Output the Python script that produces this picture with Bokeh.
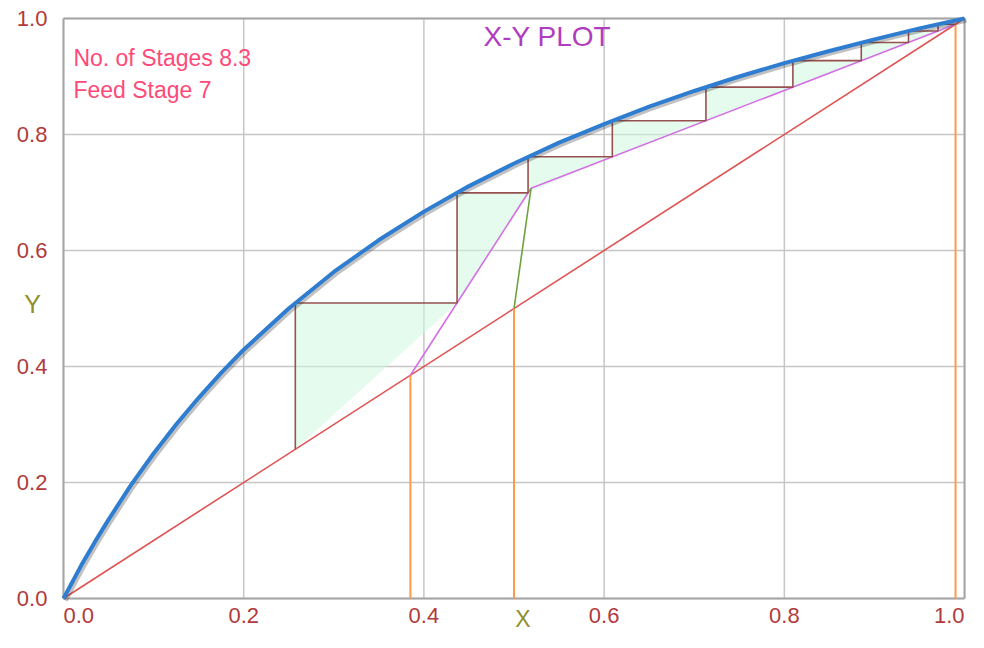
from bokeh.plotting import figure
from bokeh.models import Range1d, Label
from bokeh.embed import file_html
from bokeh.resources import INLINE

# ---------------- data ----------------
eq_x = [0.0, 0.01, 0.02, 0.035, 0.05, 0.075, 0.1, 0.125, 0.15, 0.175, 0.2, 0.25,
        0.3, 0.35, 0.4, 0.45, 0.5, 0.55, 0.6, 0.65, 0.7, 0.75, 0.8, 0.85,
        0.9, 0.95, 1.0]
eq_y = [0.0, 0.029, 0.058, 0.098, 0.136, 0.196, 0.25, 0.3, 0.346, 0.389, 0.429, 0.5,
        0.563, 0.618, 0.667, 0.711, 0.75, 0.786, 0.818, 0.848, 0.875, 0.9, 0.923, 0.944,
        0.964, 0.983, 1.0]

diag_x = [0.0, 1.0]
diag_y = [0.0, 1.0]

comp_x = [0.385, 0.5, 0.99]          # bottoms, feed, distillate

rect_x = [0.5189, 0.99]
rect_y = [0.7073, 0.99]
strip_x = [0.385, 0.5189]
strip_y = [0.385, 0.7073]
feed_x = [0.5, 0.5189]
feed_y = [0.5, 0.7073]

step_x = [0.99, 0.9706, 0.9706, 0.9378, 0.9378, 0.8854, 0.8854, 0.8095, 0.8095,
          0.7130, 0.7130, 0.6091, 0.6091, 0.5156, 0.5156, 0.4368, 0.4368, 0.2573, 0.2573]
step_y = [0.99, 0.99, 0.9784, 0.9784, 0.9587, 0.9587, 0.9273, 0.9273, 0.8817,
          0.8817, 0.8238, 0.8238, 0.7615, 0.7615, 0.6994, 0.6994, 0.5096, 0.5096, 0.2573]

tick_vals = [0.0, 0.2, 0.4, 0.6, 0.8, 1.0]
tick_labels = ["0.0", "0.2", "0.4", "0.6", "0.8", "1.0"]

title_text = "X-Y PLOT"
info_lines = ["No. of Stages 8.3", "Feed Stage 7"]
x_title = "X"
y_title = "Y"

# ---------------- styles ----------------
FONT = "Liberation Sans"
TICK_COLOR = "#b23a3a"
AXIS_TITLE_COLOR = "#8f8f2e"

p = figure(width=968, height=632, output_backend="svg", toolbar_location=None,
           x_range=Range1d(-0.0699, 1.0044), y_range=Range1d(-0.0586, 1.031),
           min_border=0)
p.background_fill_color = "white"
p.border_fill_color = "white"
p.outline_line_color = None
p.xaxis.visible = False
p.yaxis.visible = False
p.xgrid.visible = False
p.ygrid.visible = False

# grid lines (inside the unit square)
p.multi_line([[v, v] for v in tick_vals], [[0, 1] for _ in tick_vals],
             line_color="#c6c6c6", line_width=1.5)
p.multi_line([[0, 1] for _ in tick_vals], [[v, v] for v in tick_vals],
             line_color="#c6c6c6", line_width=1.5)

# stage fills (triangles from consecutive step corners)
tri_xs, tri_ys = [], []
for i in range(0, len(step_x) - 2, 2):
    tri_xs.append([step_x[i], step_x[i + 1], step_x[i + 2]])
    tri_ys.append([step_y[i], step_y[i + 1], step_y[i + 2]])
p.patches(tri_xs, tri_ys, fill_color="#cff7df", fill_alpha=0.55, line_color=None)

# chart border
lo, hi = tick_vals[0], tick_vals[-1]
p.multi_line([[lo, hi], [lo, hi], [lo, lo], [hi, hi]],
             [[lo, lo], [hi, hi], [lo, hi], [lo, hi]],
             line_color="#a6a6a6", line_width=2)

# diagonal
p.line(diag_x, diag_y, line_color="#e05252", line_width=1.6)

# composition verticals
for c in comp_x:
    p.line([c, c], [0, c], line_color="#ff9a48", line_width=2)

# operating lines and feed line
p.line(rect_x, rect_y, line_color="#d46ee4", line_width=1.6)
p.line(strip_x, strip_y, line_color="#d46ee4", line_width=1.6)
p.line(feed_x, feed_y, line_color="#6ea23e", line_width=1.6)

# stage steps
p.line(step_x, step_y, line_color="#965050", line_width=1.6)

# equilibrium curve with soft shadow
p.line([x + 0.0022 for x in eq_x], [y - 0.0035 for y in eq_y],
       line_color="#333333", line_alpha=0.3, line_width=4.5)
p.line(eq_x, eq_y, line_color="#2e7dd0", line_width=4)

# title & info text
p.add_layout(Label(x=0.537, y=0.969, text=title_text, text_font=FONT,
                   text_font_size="28px", text_color="#b03cc0",
                   text_align="center", text_baseline="middle"))
for txt, yy in zip(info_lines, [0.9315, 0.877]):
    p.add_layout(Label(x=0.011, y=yy, text=txt, text_font=FONT,
                       text_font_size="23px", text_color="#ff4a78",
                       text_align="left", text_baseline="middle"))

# x tick labels
aligns = ["left", "center", "center", "center", "center", "right"]
for v, t, a in zip(tick_vals, tick_labels, aligns):
    p.add_layout(Label(x=v, y=-0.029, text=t, text_font=FONT,
                       text_font_size="22px", text_color=TICK_COLOR,
                       text_align=a, text_baseline="middle"))

# y tick labels
for v, t in zip(tick_vals, tick_labels):
    p.add_layout(Label(x=-0.0178, y=v, text=t, text_font=FONT,
                       text_font_size="22px", text_color=TICK_COLOR,
                       text_align="right", text_baseline="middle"))

# axis titles
p.add_layout(Label(x=0.51, y=-0.0345, text=x_title, text_font=FONT,
                   text_font_size="23px", text_color=AXIS_TITLE_COLOR,
                   text_align="center", text_baseline="middle"))
p.add_layout(Label(x=-0.0344, y=0.508, text=y_title, text_font=FONT,
                   text_font_size="25px", text_color=AXIS_TITLE_COLOR,
                   text_align="center", text_baseline="middle"))

open("out.html", "w").write(file_html(p, INLINE))
